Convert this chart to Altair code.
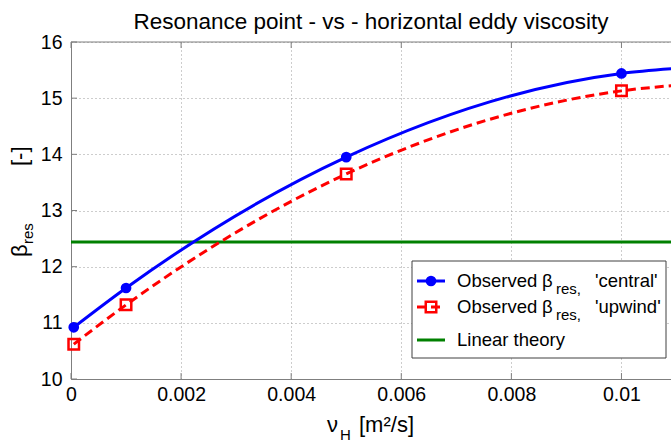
import altair as alt
import pandas as pd

# Observed resonance points beta_res against horizontal eddy viscosity nu_H
nu_obs = [0.00005, 0.001, 0.005, 0.01]
beta_central = [10.92, 11.62, 13.95, 15.44]
beta_upwind = [10.62, 11.32, 13.65, 15.13]

# Fitted curves through the observations, running on to the right edge of the axes
nu_fit = [0.00005, 0.001, 0.005, 0.01, 0.011]
fit_central = [10.92, 11.62, 13.95, 15.44, 15.53]
fit_upwind = [10.62, 11.32, 13.65, 15.13, 15.23]

# Resonance point predicted by linear theory
beta_linear = 12.44

x_ticks = [0, 0.002, 0.004, 0.006, 0.008, 0.01]
y_ticks = [10, 11, 12, 13, 14, 15, 16]
x_domain = [0, 0.0109]
y_domain = [10, 16]

FONT = "Liberation Sans"
AX = "#7f7f7f"
GRID = "#9a9a9a"
BLUE = "#0000ff"
RED = "#ff0000"
GREEN = "#008000"
W, H = 600, 337

xscale = alt.Scale(domain=x_domain, nice=False, zero=False)
yscale = alt.Scale(domain=y_domain, nice=False, zero=False)

x_axis = alt.Axis(values=x_ticks, format=".3~f", grid=True, gridDash=[1, 3], gridColor=GRID,
                  domainColor=AX, ticks=False, tickSize=0, labelFont=FONT, labelFontSize=19.5,
                  labelColor="black", labelPadding=6, title=None, labelFlush=False)
y_axis = alt.Axis(values=y_ticks, format="d", grid=True, gridDash=[1, 3], gridColor=GRID,
                  domainColor=AX, ticks=False, tickSize=0, labelFont=FONT, labelFontSize=19.5,
                  labelColor="black", labelPadding=9, title=None, labelFlush=False)

fit_df = pd.DataFrame({"nu": nu_fit, "central": fit_central, "upwind": fit_upwind})
obs_df = pd.DataFrame({"nu": nu_obs, "central": beta_central, "upwind": beta_upwind})
xt_df = pd.DataFrame({"v": x_ticks})
yt_df = pd.DataFrame({"v": y_ticks})
one = pd.DataFrame({"t": [""]})

# axes, grid and inward ticks
frame = alt.Chart(fit_df).mark_point(opacity=0).encode(
    x=alt.X("nu:Q", scale=xscale, axis=x_axis),
    y=alt.Y("central:Q", scale=yscale, axis=y_axis),
)
top_rule = alt.Chart(one).mark_rule(color=AX, strokeWidth=1).encode(y=alt.datum(16, scale=yscale))
tick_bottom = alt.Chart(xt_df).mark_rule(color=AX).encode(
    x=alt.X("v:Q", scale=xscale), y=alt.value(H), y2=alt.value(H - 6))
tick_top = alt.Chart(xt_df).mark_rule(color=AX).encode(
    x=alt.X("v:Q", scale=xscale), y=alt.value(0), y2=alt.value(6))
tick_left = alt.Chart(yt_df).mark_rule(color=AX).encode(
    y=alt.Y("v:Q", scale=yscale), x=alt.value(0), x2=alt.value(6))

linear = alt.Chart(one).mark_rule(color=GREEN, strokeWidth=3).encode(
    y=alt.datum(beta_linear, scale=yscale))

line_up = alt.Chart(fit_df).mark_line(color=RED, strokeWidth=3, strokeDash=[9, 5],
                                      interpolate="monotone", clip=True).encode(
    x=alt.X("nu:Q", scale=xscale), y=alt.Y("upwind:Q", scale=yscale))
line_ce = alt.Chart(fit_df).mark_line(color=BLUE, strokeWidth=3,
                                      interpolate="monotone", clip=True).encode(
    x=alt.X("nu:Q", scale=xscale), y=alt.Y("central:Q", scale=yscale))
pts_up = alt.Chart(obs_df).mark_point(shape="square", size=110, filled=False, color=RED,
                                      strokeWidth=2.5, opacity=1).encode(
    x=alt.X("nu:Q", scale=xscale), y=alt.Y("upwind:Q", scale=yscale))
pts_ce = alt.Chart(obs_df).mark_point(shape="circle", size=115, filled=True, color=BLUE,
                                      opacity=1).encode(
    x=alt.X("nu:Q", scale=xscale), y=alt.Y("central:Q", scale=yscale))


def label(txt, x, y, size, angle=None, align="left", baseline="alphabetic"):
    kw = dict(font=FONT, fontSize=size, align=align, baseline=baseline, color="black")
    if angle is not None:
        kw["angle"] = angle
    return alt.Chart(pd.DataFrame({"t": [txt]})).mark_text(**kw).encode(
        x=alt.value(x), y=alt.value(y), text="t:N")


# legend box
LX0, LX1, LY0, LY1 = 341, 595, 219, 316
rows = [239, 265, 298]
legend = [
    alt.Chart(one).mark_rect(fill="white", stroke="#404040", strokeWidth=1).encode(
        x=alt.value(LX0), x2=alt.value(LX1), y=alt.value(LY0), y2=alt.value(LY1)),
    alt.Chart(one).mark_rule(color=BLUE, strokeWidth=3).encode(
        x=alt.value(346), x2=alt.value(374), y=alt.value(rows[0])),
    alt.Chart(one).mark_point(shape="circle", size=115, filled=True, color=BLUE, opacity=1).encode(
        x=alt.value(360), y=alt.value(rows[0])),
    alt.Chart(one).mark_rule(color=RED, strokeWidth=3, strokeDash=[9, 5]).encode(
        x=alt.value(346), x2=alt.value(374), y=alt.value(rows[1])),
    alt.Chart(one).mark_point(shape="square", size=110, filled=False, color=RED,
                              strokeWidth=2.5, opacity=1).encode(
        x=alt.value(360), y=alt.value(rows[1])),
    alt.Chart(one).mark_rule(color=GREEN, strokeWidth=3).encode(
        x=alt.value(346), x2=alt.value(374), y=alt.value(rows[2])),
]
for r, tag in [(rows[0], "'central'"), (rows[1], "'upwind'")]:
    legend += [
        label("Observed", 386, r + 6, 18.5),
        label("β", 471, r + 6, 18.5),
        label("res,", 485, r + 13, 15),
        label(tag, 524, r + 6, 18.5),
    ]
legend.append(label("Linear theory", 386, rows[2] + 6, 18.5))

# title and axis titles
texts = [
    label("Resonance point - vs - horizontal eddy viscosity", W / 2, -13, 22.5, align="center"),
    label("ν", 256, 390, 22),
    label("H", 269, 398, 15),
    label("[m²/s]", 288, 390, 22),
    label("β", -44, 215, 22, angle=270),
    label("res", -38, 202, 15, angle=270),
    label("[-]", -44, 124, 22, angle=270),
]

chart = alt.layer(
    frame, top_rule, tick_bottom, tick_top, tick_left, linear,
    line_up, line_ce, pts_up, pts_ce, *legend, *texts
).properties(
    width=W, height=H,
    autosize=alt.AutoSizeParams(type="none"),
    padding={"left": 71, "top": 42, "right": 0, "bottom": 64},
    background="white",
).configure_view(stroke=None)

chart.save("out.html", embed_options={"renderer": "svg", "actions": False})
